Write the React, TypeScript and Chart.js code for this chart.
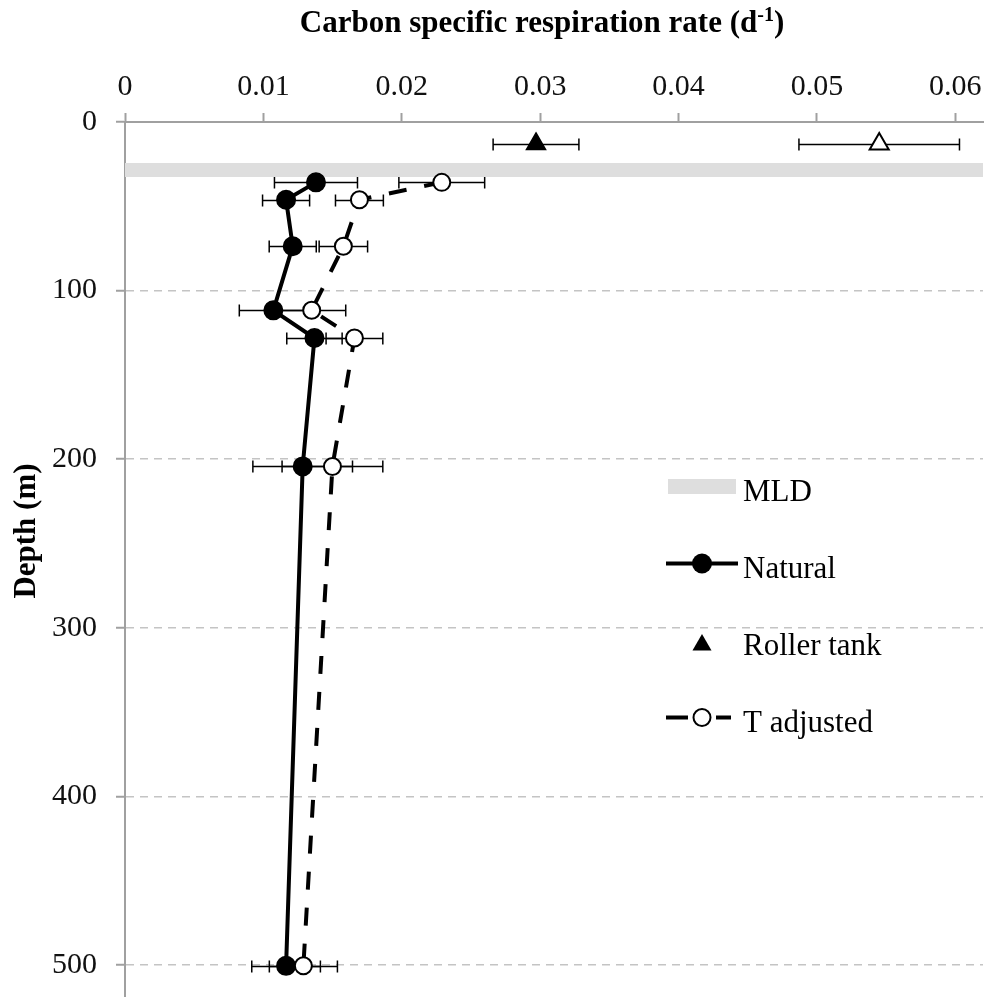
import React, { useEffect, useRef } from "react";
import { Chart, registerables } from "chart.js";

Chart.register(...registerables);

// ---- data ----
const depthNatural = [35.8, 46.1, 73.7, 111.7, 128.1, 204.3, 500.5];
const rateNatural = [0.0138, 0.01164, 0.01212, 0.01072, 0.01369, 0.01284, 0.01164];
const errNatural = [0.003, 0.0017, 0.0017, 0.00246, 0.002, 0.0036, 0.00248];

const depthTAdj = [35.8, 46.1, 73.7, 111.7, 128.1, 204.3, 500.5];
const rateTAdj = [0.02289, 0.01694, 0.01578, 0.01349, 0.01658, 0.01499, 0.01289];
const errTAdj = [0.0031, 0.00173, 0.00175, 0.00246, 0.00205, 0.00364, 0.00246];

const depthRoller = [13];
const rateRoller = [0.0297];
const errRoller = [0.0031];
const rateRollerTAdj = [0.0545];
const errRollerTAdj = [0.0058];

const mldDepth = 28.5;
const mldRange = [0, 0.062];

const xTickValues = [0, 0.01, 0.02, 0.03, 0.04, 0.05, 0.06];
const xTickLabels = ["0", "0.01", "0.02", "0.03", "0.04", "0.05", "0.06"];
const yTickValues = [0, 100, 200, 300, 400, 500];
const yTickLabels = ["0", "100", "200", "300", "400", "500"];

const xTitle = "Carbon specific respiration rate (d";
const xTitleSup = "-1";
const xTitleEnd = ")";
const yTitle = "Depth (m)";
const legendLabels = ["MLD", "Natural", "Roller tank", "T adjusted"];

const SERIF = '"Liberation Serif", "Times New Roman", serif';

const errorBarPlugin = {
  id: "errorBars",
  beforeDatasetsDraw(chart: any) {
    const ctx = chart.ctx;
    const xs = chart.scales.x;
    const ys = chart.scales.y;
    ctx.save();
    ctx.strokeStyle = "#000";
    ctx.lineWidth = 1.5;
    chart.data.datasets.forEach((ds: any) => {
      if (!ds.errors) return;
      ds.data.forEach((p: any, i: number) => {
        const e = ds.errors[i];
        const y = Math.round(ys.getPixelForValue(p.y)) + 0.5;
        const x1 = xs.getPixelForValue(p.x - e);
        const x2 = xs.getPixelForValue(p.x + e);
        ctx.beginPath();
        ctx.moveTo(x1, y);
        ctx.lineTo(x2, y);
        ctx.moveTo(x1, y - 6);
        ctx.lineTo(x1, y + 6);
        ctx.moveTo(x2, y - 6);
        ctx.lineTo(x2, y + 6);
        ctx.stroke();
      });
    });
    ctx.restore();
  },
};

const decorPlugin = {
  id: "decor",
  afterDraw(chart: any) {
    const ctx = chart.ctx;
    ctx.save();
    ctx.fillStyle = "#000";
    // x title with superscript
    const bigFont = `bold 31px ${SERIF}`;
    const supFont = `bold 20px ${SERIF}`;
    ctx.font = bigFont;
    const w1 = ctx.measureText(xTitle).width;
    const w3 = ctx.measureText(xTitleEnd).width;
    ctx.font = supFont;
    const w2 = ctx.measureText(xTitleSup).width;
    const total = w1 + w2 + w3;
    let x = 542 - total / 2;
    const base = 32;
    ctx.textBaseline = "alphabetic";
    ctx.textAlign = "left";
    ctx.font = bigFont;
    ctx.fillText(xTitle, x, base);
    x += w1;
    ctx.font = supFont;
    ctx.fillText(xTitleSup, x, base - 11);
    x += w2;
    ctx.font = bigFont;
    ctx.fillText(xTitleEnd, x, base);

    // y title
    ctx.save();
    ctx.translate(35, 531);
    ctx.rotate(-Math.PI / 2);
    ctx.textAlign = "center";
    ctx.font = bigFont;
    ctx.fillText(yTitle, 0, 0);
    ctx.restore();

    // legend
    const lf = `31px ${SERIF}`;
    ctx.font = lf;
    ctx.textAlign = "left";
    const tx = 743;
    // MLD
    ctx.fillStyle = "#dedede";
    ctx.fillRect(668, 479, 68, 15);
    ctx.fillStyle = "#000";
    ctx.fillText(legendLabels[0], tx, 501);
    // Natural
    ctx.strokeStyle = "#000";
    ctx.lineWidth = 4;
    ctx.beginPath();
    ctx.moveTo(666, 563.5);
    ctx.lineTo(738, 563.5);
    ctx.stroke();
    ctx.beginPath();
    ctx.arc(702, 563.5, 10, 0, Math.PI * 2);
    ctx.fill();
    ctx.fillText(legendLabels[1], tx, 578);
    // Roller tank
    const r = 11;
    const cy = 645;
    ctx.beginPath();
    ctx.moveTo(702, cy - r);
    ctx.lineTo(702 + r * Math.sin((2 * Math.PI) / 3), cy + r / 2);
    ctx.lineTo(702 - r * Math.sin((2 * Math.PI) / 3), cy + r / 2);
    ctx.closePath();
    ctx.fill();
    ctx.fillText(legendLabels[2], tx, 655);
    // T adjusted
    ctx.lineWidth = 4;
    ctx.beginPath();
    ctx.moveTo(666, 717.5);
    ctx.lineTo(688, 717.5);
    ctx.moveTo(716, 717.5);
    ctx.lineTo(731, 717.5);
    ctx.stroke();
    ctx.beginPath();
    ctx.arc(702, 717.5, 8.5, 0, Math.PI * 2);
    ctx.fillStyle = "#fff";
    ctx.fill();
    ctx.lineWidth = 2;
    ctx.strokeStyle = "#000";
    ctx.stroke();
    ctx.fillStyle = "#000";
    ctx.fillText(legendLabels[3], tx, 732);
    ctx.restore();
  },
};

export default function App() {
  const ref = useRef<HTMLCanvasElement | null>(null);

  useEffect(() => {
    if (!ref.current) return;
    const toPts = (xs: number[], ys: number[]) => xs.map((v, i) => ({ x: v, y: ys[i] }));
    const zeroPad = (s: any) => {
      s.paddingTop = 0;
      s.paddingBottom = 0;
      s.paddingLeft = 0;
      s.paddingRight = 0;
    };
    const chart = new Chart(ref.current, {
      type: "line",
      data: {
        datasets: [
          {
            label: "Roller tank",
            data: toPts(rateRoller, depthRoller),
            errors: errRoller,
            showLine: false,
            pointStyle: "triangle",
            pointRadius: 11,
            pointBackgroundColor: "#000",
            pointBorderColor: "#000",
            pointBorderWidth: 1.5,
            order: 1,
          } as any,
          {
            label: "Roller tank T adjusted",
            data: toPts(rateRollerTAdj, depthRoller),
            errors: errRollerTAdj,
            showLine: false,
            pointStyle: "triangle",
            pointRadius: 11,
            pointBackgroundColor: "#fff",
            pointBorderColor: "#000",
            pointBorderWidth: 2,
            order: 1,
          } as any,
          {
            label: "T adjusted",
            data: toPts(rateTAdj, depthTAdj),
            errors: errTAdj,
            borderColor: "#000",
            borderWidth: 4,
            borderDash: [18, 18],
            pointRadius: 8.5,
            pointBackgroundColor: "#fff",
            pointBorderColor: "#000",
            pointBorderWidth: 2,
            order: 2,
          } as any,
          {
            label: "Natural",
            data: toPts(rateNatural, depthNatural),
            errors: errNatural,
            borderColor: "#000",
            borderWidth: 4,
            pointRadius: 9,
            pointBackgroundColor: "#000",
            pointBorderColor: "#000",
            pointBorderWidth: 2,
            order: 3,
          } as any,
          {
            label: "MLD",
            data: toPts(mldRange, [mldDepth, mldDepth]),
            borderColor: "#dedede",
            borderWidth: 14,
            borderCapStyle: "butt",
            pointRadius: 0,
            order: 5,
          } as any,
        ],
      },
      options: {
        responsive: false,
        animation: false,
        devicePixelRatio: 1,
        layout: { autoPadding: false, padding: { left: 0, right: 3, top: 0, bottom: 0 } },
        plugins: { legend: { display: false }, tooltip: { enabled: false } },
        scales: {
          x: {
            type: "linear",
            position: "top",
            min: 0,
            max: 0.062,
            afterFit: (s: any) => {
              s.height = 122;
              zeroPad(s);
            },
            afterBuildTicks: (s: any) => {
              s.ticks = xTickValues.map((v) => ({ value: v }));
            },
            ticks: {
              font: { family: SERIF, size: 30 },
              color: "#111",
              padding: 8,
              maxRotation: 0,
              autoSkip: false,
              callback: (_v: any, i: number) => xTickLabels[i],
            },
            grid: {
              drawOnChartArea: false,
              drawTicks: true,
              tickLength: 9,
              tickColor: "#a0a0a0",
              tickWidth: 2,
            },
            border: { display: true, color: "#a0a0a0", width: 2 },
          },
          y: {
            type: "linear",
            reverse: true,
            min: 0,
            max: 519,
            afterFit: (s: any) => {
              s.width = 125;
              zeroPad(s);
            },
            afterBuildTicks: (s: any) => {
              s.ticks = yTickValues.map((v) => ({ value: v }));
            },
            ticks: {
              font: { family: SERIF, size: 30 },
              color: "#111",
              padding: 19,
              autoSkip: false,
              callback: (_v: any, i: number) => yTickLabels[i],
            },
            grid: {
              drawTicks: true,
              tickLength: 9,
              color: (c: any) => (c.tick && c.tick.value === 0 ? "rgba(0,0,0,0)" : "#c4c4c4"),
              lineWidth: 1.5,
              tickColor: "#a0a0a0",
              tickWidth: 2,
              tickBorderDash: [],
            },
            border: { display: true, color: "#a0a0a0", width: 2, dash: [8, 6] },
          },
        },
      } as any,
      plugins: [errorBarPlugin, decorPlugin],
    });
    return () => chart.destroy();
  }, []);

  return (
    <div style={{ position: "absolute", left: 0, top: 0, width: 986, height: 997, background: "#fff" }}>
      <canvas ref={ref} width={986} height={997} style={{ display: "block" }} />
    </div>
  );
}
